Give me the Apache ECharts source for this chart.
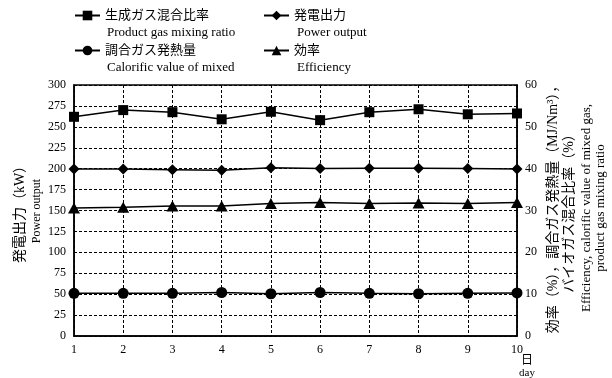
<!DOCTYPE html>
<html>
<head>
<meta charset="utf-8">
<script src="https://cdn.jsdelivr.net/npm/echarts@6/dist/echarts.min.js"></script>
<style>html,body{margin:0;padding:0;background:#fff}#c{width:612px;height:378px}</style>
</head>
<body>
<div id="c"></div>
<script>
const days = ['1','2','3','4','5','6','7','8','9','10'];
const mixingRatio = [52.4, 54.0, 53.5, 51.8, 53.6, 51.6, 53.5, 54.2, 53.0, 53.2];
const powerOutput = [199.5, 199.5, 198.8, 198.0, 201.0, 200.3, 200.5, 200.5, 200.3, 199.5];
const calorific = [10.2, 10.2, 10.2, 10.4, 10.1, 10.4, 10.2, 10.1, 10.2, 10.3];
const efficiency = [30.6, 30.8, 31.1, 31.1, 31.7, 31.9, 31.7, 31.8, 31.7, 31.9];
const namesJP = ['生成ガス混合比率', '発電出力', '調合ガス発熱量', '効率'];
const namesEN = ['Product gas mixing ratio', 'Power output', 'Calorific value of mixed', 'Efficiency'];
const leftTicks = [0, 300, 25];
const rightTicks = [0, 60, 10];
const leftTitle = ['発電出力（kW）', 'Power output'];
const rightTitle = ['効率（%），調合ガス発熱量（MJ/Nm³），', 'バイオガス混合比率（%）', 'Efficiency, calorific value of mixed gas,', 'product gas mixing ratio'];
const xTitle = ['日', 'day'];

const FONT = "'Liberation Serif', 'Noto Sans CJK JP', serif";
const chart = echarts.init(document.getElementById('c'));
const lineStyle = {color: '#000', width: 1.5};
const legendPos = [[74, 9], [263, 9], [74, 44], [263, 44]];
const enPos = [[107, 33], [297, 33], [107, 68], [297, 68]];

const legends = namesJP.map((n, i) => ({
  data: [n], left: legendPos[i][0], top: legendPos[i][1],
  itemWidth: 25, itemHeight: 12, itemGap: 8,
  textStyle: {fontFamily: FONT, fontSize: 13, color: '#000'},
  padding: 0
}));

function vtext(t, x, y, size) {
  return {type: 'text', x: x, y: y, rotation: Math.PI / 2,
    style: {text: t, font: size + 'px ' + FONT, fill: '#000', align: 'center', verticalAlign: 'middle'}};
}

const graphics = namesEN.map((t, i) => ({
  type: 'text', left: enPos[i][0], top: enPos[i][1] - 7,
  style: {text: t, font: '13px ' + FONT, fill: '#000'}
})).concat([
  {type: 'text', left: 521, top: 355, style: {text: xTitle[0], font: '12px ' + FONT, fill: '#000'}},
  {type: 'text', left: 519, top: 368, style: {text: xTitle[1], font: '11px ' + FONT, fill: '#000'}},
  vtext(leftTitle[0], 20, 211, 14),
  vtext(leftTitle[1], 37, 211, 12),
  vtext(rightTitle[0], 553, 206, 14),
  vtext(rightTitle[1], 569, 210, 14),
  vtext(rightTitle[2], 587, 208, 13),
  vtext(rightTitle[3], 601, 208, 13)
]);

chart.setOption({
  animation: false,
  textStyle: {fontFamily: FONT},
  legend: legends,
  graphic: graphics,
  grid: {left: 74, right: 95, top: 85, bottom: 42, show: true, borderColor: '#000', borderWidth: 1.5, containLabel: false, outerBoundsMode: 'none'},
  xAxis: {
    type: 'category', data: days, boundaryGap: false,
    axisLine: {lineStyle: {color: '#000', width: 1.5}},
    axisTick: {show: false},
    axisLabel: {color: '#000', fontSize: 12, margin: 8},
    splitLine: {show: true, lineStyle: {color: '#000', type: [3, 2], width: 1}}
  },
  yAxis: [{
    type: 'value', min: leftTicks[0], max: leftTicks[1], interval: leftTicks[2],
    axisLine: {show: true, lineStyle: {color: '#000', width: 1.5}},
    axisTick: {show: false},
    axisLabel: {color: '#000', fontSize: 12, margin: 8},
    splitLine: {show: true, lineStyle: {color: '#000', type: [3, 2], width: 1}}
  }, {
    type: 'value', min: rightTicks[0], max: rightTicks[1], interval: rightTicks[2], position: 'right',
    axisLine: {show: true, lineStyle: {color: '#000', width: 1.5}},
    axisTick: {show: false},
    axisLabel: {color: '#000', fontSize: 12, margin: 8},
    splitLine: {show: false}
  }],
  series: [
    {name: namesJP[0], type: 'line', yAxisIndex: 1, data: mixingRatio, symbol: 'rect', symbolSize: 10, lineStyle, itemStyle: {color: '#000'}},
    {name: namesJP[1], type: 'line', yAxisIndex: 0, data: powerOutput, symbol: 'diamond', symbolSize: 11, lineStyle, itemStyle: {color: '#000'}},
    {name: namesJP[2], type: 'line', yAxisIndex: 1, data: calorific, symbol: 'circle', symbolSize: 11, lineStyle, itemStyle: {color: '#000'}},
    {name: namesJP[3], type: 'line', yAxisIndex: 1, data: efficiency, symbol: 'triangle', symbolSize: [12, 11], lineStyle, itemStyle: {color: '#000'}}
  ]
});
</script>
</body>
</html>
